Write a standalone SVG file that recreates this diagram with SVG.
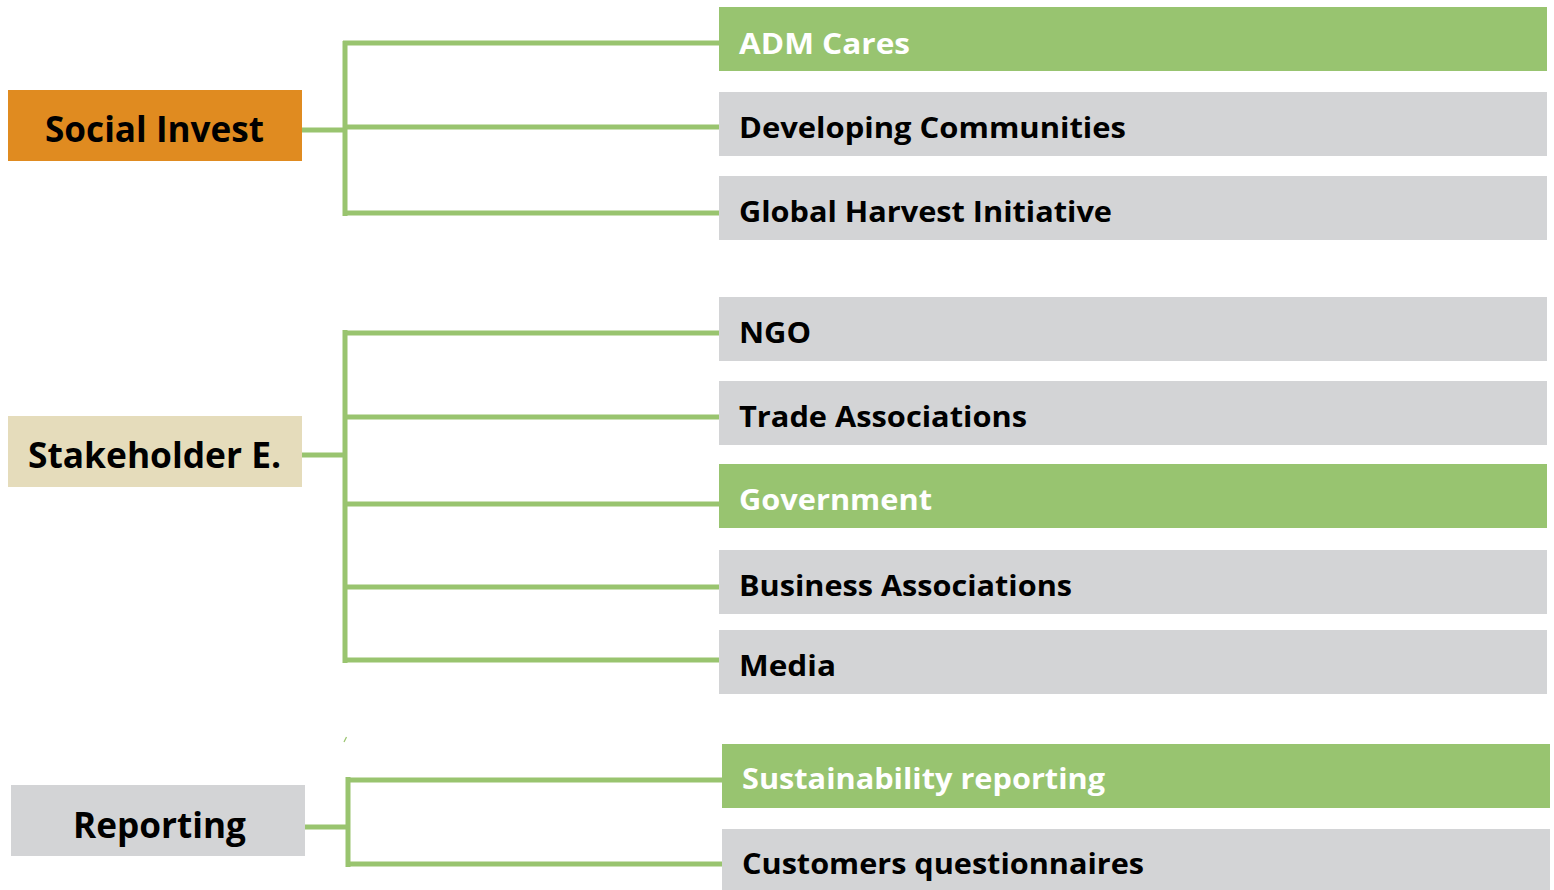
<svg xmlns="http://www.w3.org/2000/svg" width="1554" height="890" viewBox="0 0 1554 890">
<style>
.lbl{font-family:"Open Sans","Liberation Sans",sans-serif;font-weight:bold;}
.big{font-size:36px;}
.sm{font-size:28px;}
.dark{fill:#000;}
.white{fill:#fff;}
.green{fill:#98c470;}
.grey{fill:#d3d4d6;}
.conn{stroke:#99c46f;stroke-width:5;fill:none;stroke-linecap:butt;}
</style>
<rect width="1554" height="890" fill="#fff"/>
<g id="connectors">
<path class="conn" d="M302 130 H345 M345 41 V216 M343 43 H719 M345 127 H719 M343 213 H719"/>
<path class="conn" d="M302 455 H345 M345 330 V663 M343 333 H719 M345 417 H719 M345 504 H719 M345 587 H719 M343 660 H719"/>
<path class="conn" d="M305 827 H348 M348 777 V867 M346 780 H722 M348 864 H722"/>
<path d="M344 742 L346.5 737" stroke="#99c46f" stroke-width="1.2" fill="none"/>
</g>
<g id="social-invest">
<rect x="8" y="90" width="294" height="71" fill="#e08b20"/>
<text class="lbl big dark" x="45" y="142" textLength="219" lengthAdjust="spacingAndGlyphs">Social Invest</text>
</g>
<g id="stakeholder">
<rect x="8" y="416" width="294" height="71" fill="#e5dcbb"/>
<text class="lbl big dark" x="28" y="468" textLength="253" lengthAdjust="spacingAndGlyphs">Stakeholder E.</text>
</g>
<g id="reporting">
<rect x="11" y="785" width="294" height="71" fill="#d3d4d6"/>
<text class="lbl big dark" x="73" y="838" textLength="173" lengthAdjust="spacingAndGlyphs">Reporting</text>
</g>
<g id="adm-cares">
<rect class="green" x="719" y="7" width="828" height="64"/>
<text class="lbl sm white" x="739" y="54" textLength="171" lengthAdjust="spacingAndGlyphs">ADM Cares</text>
</g>
<g id="developing-communities">
<rect class="grey" x="719" y="92" width="828" height="64"/>
<text class="lbl sm dark" x="739" y="138" textLength="387" lengthAdjust="spacingAndGlyphs">Developing Communities</text>
</g>
<g id="global-harvest">
<rect class="grey" x="719" y="176" width="828" height="64"/>
<text class="lbl sm dark" x="739" y="222" textLength="373" lengthAdjust="spacingAndGlyphs">Global Harvest Initiative</text>
</g>
<g id="ngo">
<rect class="grey" x="719" y="297" width="828" height="64"/>
<text class="lbl sm dark" x="739" y="343" textLength="72" lengthAdjust="spacingAndGlyphs">NGO</text>
</g>
<g id="trade-associations">
<rect class="grey" x="719" y="381" width="828" height="64"/>
<text class="lbl sm dark" x="739" y="427" textLength="288" lengthAdjust="spacingAndGlyphs">Trade Associations</text>
</g>
<g id="government">
<rect class="green" x="719" y="464" width="828" height="64"/>
<text class="lbl sm white" x="739" y="510" textLength="193" lengthAdjust="spacingAndGlyphs">Government</text>
</g>
<g id="business-associations">
<rect class="grey" x="719" y="550" width="828" height="64"/>
<text class="lbl sm dark" x="739" y="596" textLength="333" lengthAdjust="spacingAndGlyphs">Business Associations</text>
</g>
<g id="media">
<rect class="grey" x="719" y="630" width="828" height="64"/>
<text class="lbl sm dark" x="739" y="676" textLength="97" lengthAdjust="spacingAndGlyphs">Media</text>
</g>
<g id="sustainability-reporting">
<rect class="green" x="722" y="744" width="828" height="64"/>
<text class="lbl sm white" x="742" y="789" textLength="363" lengthAdjust="spacingAndGlyphs">Sustainability reporting</text>
</g>
<g id="customers-questionnaires">
<rect class="grey" x="722" y="829" width="828" height="64"/>
<text class="lbl sm dark" x="742" y="874" textLength="402" lengthAdjust="spacingAndGlyphs">Customers questionnaires</text>
</g>
</svg>
